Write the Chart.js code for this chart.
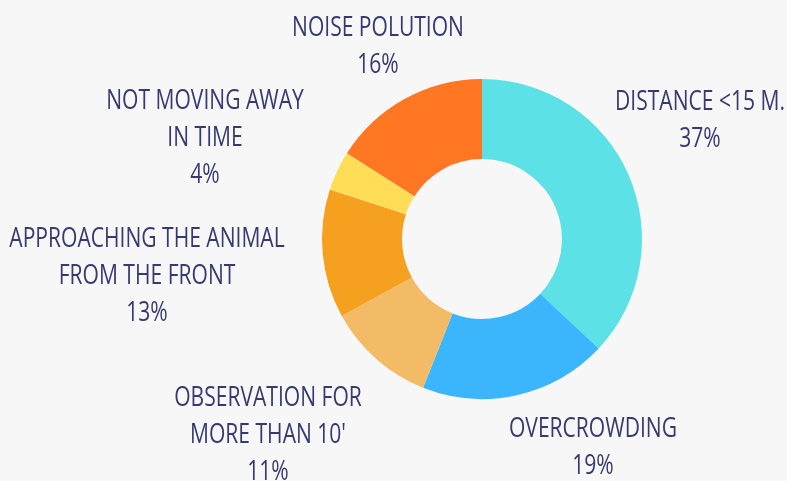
<!DOCTYPE html>
<html>
<head>
<meta charset="utf-8">
<script src="https://cdn.jsdelivr.net/npm/chart.js@4"></script>
<style>
    html, body { margin: 0; padding: 0; background: #f7f7f7; }
    #holder { width: 787px; height: 481px; }
</style>
</head>
<body>
<div id="holder"><canvas id="chart-area"></canvas></div>
<script>
// data
var categories = [
    ['DISTANCE <15 M.'],
    ['OVERCROWDING'],
    ['OBSERVATION FOR', "MORE THAN 10'"],
    ['APPROACHING THE ANIMAL', 'FROM THE FRONT'],
    ['NOT MOVING AWAY', 'IN TIME'],
    ['NOISE POLUTION']
];
var shares = [37, 19, 11, 13, 4, 16];
var sliceColors = ['#5ce1e6', '#3bb6fd', '#f4bb67', '#f6a020', '#ffdd57', '#ff7722'];

// where each label block sits, relative to the centre of the ring
var labelOffsets = [[218, -137], [111, 190], [-214, 159], [-335, 0], [-277, -138], [-104, -211]];

var labelPlugin = {
    id: 'outerLabels',
    afterDraw: function(chart) {
        var ctx = chart.ctx;
        var arc = chart.getDatasetMeta(0).data[0];
        var cx = arc.x, cy = arc.y;
        var lineH = 37;
        ctx.save();
        ctx.fillStyle = '#363a70';
        ctx.font = '27px "Open Sans"';
        ctx.textAlign = 'center';
        ctx.textBaseline = 'middle';
        for (var i = 0; i < categories.length; i++) {
            var lines = categories[i].concat([shares[i] + '%']);
            var x = cx + labelOffsets[i][0];
            var y = cy + labelOffsets[i][1];
            for (var j = 0; j < lines.length; j++) {
                ctx.save();
                ctx.translate(x, y + j * lineH);
                ctx.scale(0.78, 1);
                ctx.fillText(lines[j], 0, 0);
                ctx.restore();
            }
        }
        ctx.restore();
    }
};

var config = {
    type: 'doughnut',
    data: {
        labels: categories.map(function(c) { return c.join(' '); }),
        datasets: [{
            data: shares,
            backgroundColor: sliceColors,
            borderWidth: 0
        }]
    },
    options: {
        responsive: true,
        maintainAspectRatio: false,
        animation: false,
        cutout: '50%',
        layout: { padding: { left: 322, right: 145, top: 79, bottom: 82 } },
        plugins: {
            legend: { display: false },
            tooltip: { enabled: false }
        }
    },
    plugins: [labelPlugin]
};
var ctx = document.getElementById('chart-area').getContext('2d');
var myChart = new Chart(ctx, config);
</script>
</body>
</html>
